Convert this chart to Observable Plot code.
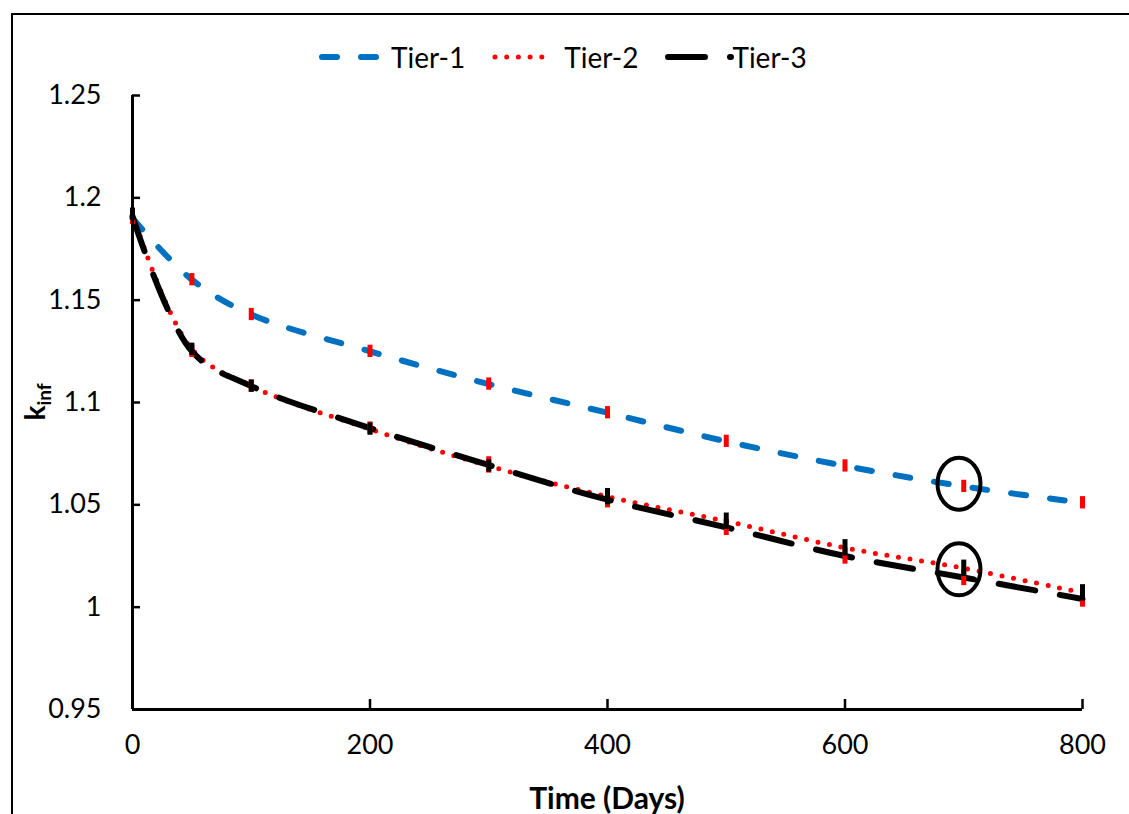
<!DOCTYPE html>
<html><head><meta charset="utf-8">
<script src="https://cdn.jsdelivr.net/npm/d3@7"></script>
<script src="https://cdn.jsdelivr.net/npm/@observablehq/plot@0.6"></script>
<style>
html,body{margin:0;padding:0;background:#fff;overflow:hidden}
#wrap{position:relative;width:1129px;height:814px;overflow:hidden;font-family:Lato,sans-serif;background:#fff}
#frame{position:absolute;left:11px;top:13px;width:1300px;height:1000px;border:2px solid #000;box-sizing:border-box;pointer-events:none;z-index:2}
#legend{position:absolute;left:319px;top:40px;height:34px;display:flex;align-items:center;font-size:28px;color:#000;white-space:nowrap}
#legend .item{display:flex;align-items:center;margin-right:27px}
#legend svg{display:block;margin-right:12px;overflow:visible}
#chart{position:absolute;left:0;top:80px}
</style></head><body>
<div id="wrap"><div id="frame"></div><div id="legend"></div><div id="chart"></div></div>
<script>
// ---- data ----
const days   = [0, 50, 100, 200, 300, 400, 500, 600, 700, 800];
const tier1  = [1.190, 1.160, 1.143, 1.125, 1.109, 1.095, 1.081, 1.069, 1.059, 1.051];
const tier2  = [1.192, 1.126, 1.108, 1.087, 1.069, 1.054, 1.042, 1.029, 1.019, 1.007];
const tier3  = [1.191, 1.125, 1.108, 1.0875, 1.0695, 1.0525, 1.039, 1.025, 1.0145, 1.004];
const tier1Err = [0.003, 0.003, 0.003, 0.003, 0.003, 0.003, 0.003, 0.003, 0.003, 0.003];
const tier2Err = [0.003, 0.003, 0.003, 0.003, 0.003, 0.004, 0.004, 0.004, 0.004, 0.004];
const tier3Err = [0.003, 0.003, 0.003, 0.003, 0.004, 0.004, 0.004, 0.004, 0.004, 0.004];
const seriesNames = ["Tier-1", "Tier-2", "Tier-3"];
const markedDay = [696, 696];
const markedK   = [1.0603, 1.0185];
const xTicks = [0, 200, 400, 600, 800];
const yTicks = [0.95, 1.0, 1.05, 1.1, 1.15, 1.2, 1.25];
const xTitle = "Time (Days)";

// ---- styles ----
const styles = [
  {color: "#0070C0", width: 6, dash: "15,24", ebColor: "#FF0000"},
  {color: "#FF0000", width: 5, dash: "0,11.7", ebColor: "#000000"},
  {color: "#000000", width: 6, dash: "37,25", ebColor: "#FF0000"}
];
const vals = [tier1, tier2, tier3];
const errs = [tier1Err, tier2Err, tier3Err];
const data = vals.map((v, s) => days.map((d, i) => ({day: d, k: v[i], lo: v[i] - errs[s][i], hi: v[i] + errs[s][i]})));
const circles = markedDay.map((d, i) => ({day: d, k: markedK[i]}));

// ---- legend ----
const legend = document.getElementById("legend");
const swLen = [60, 60, 69];
seriesNames.forEach((name, s) => {
  const st = styles[s];
  const item = document.createElement("div");
  item.className = "item";
  const w = swLen[s];
  item.innerHTML = `<svg width="${w}" height="20"><line x1="3" y1="10" x2="${w - 3}" y2="10" stroke="${st.color}" stroke-width="${st.width}" stroke-dasharray="${st.dash}" stroke-linecap="round"/></svg><span>${name}</span>`;
  if (s === 2) item.querySelector("svg").style.marginRight = "-2px";
  legend.appendChild(item);
});

// ---- ellipse symbol ----
const ellipse = {
  draw(ctx, size) {
    const rx = Math.sqrt(size / Math.PI), ry = rx * 1.21, k = 0.5523;
    ctx.moveTo(rx, 0);
    ctx.bezierCurveTo(rx, ry * k, rx * k, ry, 0, ry);
    ctx.bezierCurveTo(-rx * k, ry, -rx, ry * k, -rx, 0);
    ctx.bezierCurveTo(-rx, -ry * k, -rx * k, -ry, 0, -ry);
    ctx.bezierCurveTo(rx * k, -ry, rx, -ry * k, rx, 0);
    ctx.closePath();
  }
};

const fmt = d => String(+d.toFixed(2));

const lineMarks = data.map((rows, s) => Plot.line(rows, {
  x: "day", y: "k", stroke: styles[s].color, strokeWidth: styles[s].width,
  strokeDasharray: styles[s].dash, strokeLinecap: "round", curve: "catmull-rom"
}));
const ebMarks = [0, 2, 1].map(s => Plot.ruleX(data[s], {
  x: "day", y1: "lo", y2: "hi", stroke: styles[s].ebColor, strokeWidth: 5
}));

const chart = Plot.plot({
  width: 1129, height: 734,
  marginLeft: 132, marginRight: 47, marginTop: 15, marginBottom: 105,
  style: {fontFamily: "Lato, sans-serif", fontSize: "27px", color: "#000", background: "transparent", overflow: "visible"},
  x: {domain: [0, 800]},
  y: {domain: [0.95, 1.25]},
  marks: [
    Plot.axisY({ticks: yTicks, tickSize: 0, tickPadding: 31, tickFormat: fmt, label: null, fontSize: 27}),
    Plot.axisY({ticks: yTicks, tickSize: 8, dx: 8, tickFormat: () => "", label: null, strokeWidth: 2.5}),
    Plot.axisX({ticks: xTicks, tickSize: 0, tickPadding: 25, tickFormat: d => String(d), label: null, fontSize: 27}),
    Plot.axisX({ticks: xTicks.slice(1), tickSize: 10, dy: -10, tickFormat: () => "", label: null, strokeWidth: 2.5}),
    ...lineMarks,
    ...ebMarks,
    Plot.ruleX([0], {stroke: "#000", strokeWidth: 3}),
    Plot.ruleY([0.95], {stroke: "#000", strokeWidth: 3}),
    Plot.dot(circles, {x: "day", y: "k", r: 21.5, symbol: ellipse, stroke: "#000", strokeWidth: 4, fill: "none"})
  ]
});
document.getElementById("chart").appendChild(chart);

// ---- axis titles ----
const xs = chart.scale("x").apply, ys = chart.scale("y").apply;
const svg = d3.select(chart);
svg.append("text")
  .attr("x", (xs(0) + xs(800)) / 2).attr("y", 718).attr("dy", "0.35em")
  .attr("text-anchor", "middle").attr("font-weight", "bold").attr("font-size", 30)
  .attr("fill", "#000").text(xTitle);
const yl = svg.append("text")
  .attr("transform", `translate(45,${(ys(0.95) + ys(1.25)) / 2}) rotate(-90)`)
  .attr("text-anchor", "middle").attr("font-weight", "bold").attr("fill", "#000");
yl.append("tspan").attr("font-size", 28).text("k");
yl.append("tspan").attr("font-size", 19).attr("dy", 6).text("inf");
</script>
</body></html>
